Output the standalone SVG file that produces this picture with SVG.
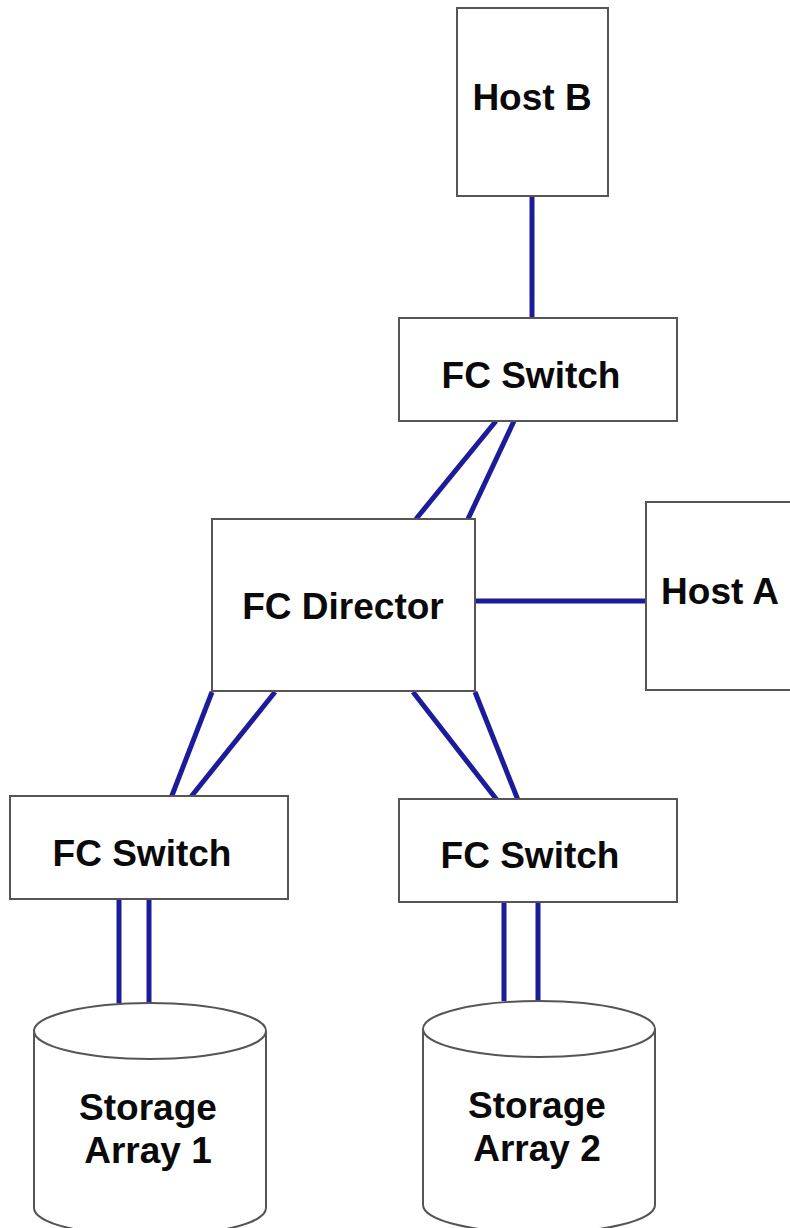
<svg xmlns="http://www.w3.org/2000/svg" width="790" height="1228" viewBox="0 0 790 1228">
<style>
.box{fill:#fff;stroke:#555;stroke-width:2}
.lbl{font-family:"Liberation Sans",Arial,sans-serif;font-weight:bold;font-size:37px;fill:#0a0a0a;text-anchor:middle}
.link{stroke:#1c1c9a;stroke-width:5;fill:none}
</style>
<rect width="790" height="1228" fill="#fff"/>
<g id="connectors">
<line class="link" x1="532" y1="196" x2="532" y2="318"/>
<line class="link" x1="496" y1="421" x2="416" y2="519"/>
<line class="link" x1="514" y1="421" x2="468" y2="519"/>
<line class="link" x1="475" y1="601" x2="646" y2="601"/>
<line class="link" x1="212" y1="692" x2="171" y2="798"/>
<line class="link" x1="275" y1="692" x2="190" y2="798"/>
<line class="link" x1="413" y1="692" x2="497" y2="800"/>
<line class="link" x1="475" y1="692" x2="518" y2="800"/>
<line class="link" x1="119" y1="899" x2="119" y2="1003"/>
<line class="link" x1="149" y1="899" x2="149" y2="1003"/>
<line class="link" x1="504" y1="902" x2="504" y2="1001"/>
<line class="link" x1="538" y1="902" x2="538" y2="1001"/>
</g>
<g id="host-b">
<rect class="box" x="457" y="8" width="151" height="188"/>
<text class="lbl" x="532" y="110">Host B</text>
</g>
<g id="fc-switch-top">
<rect class="box" x="399" y="318" width="278" height="103"/>
<text class="lbl" x="531" y="388">FC Switch</text>
</g>
<g id="fc-director">
<rect class="box" x="212" y="519" width="263" height="172"/>
<text class="lbl" x="343" y="619">FC Director</text>
</g>
<g id="host-a">
<rect class="box" x="646" y="502" width="160" height="188"/>
<text class="lbl" x="720" y="604">Host A</text>
</g>
<g id="fc-switch-left">
<rect class="box" x="10" y="796" width="278" height="103"/>
<text class="lbl" x="142" y="866">FC Switch</text>
</g>
<g id="fc-switch-right">
<rect class="box" x="399" y="799" width="278" height="103"/>
<text class="lbl" x="530" y="868">FC Switch</text>
</g>
<g id="storage-array-1">
<path class="box" d="M34,1031 L34,1208 A116,28 0 0 0 266,1208 L266,1031 A116,28 0 0 0 34,1031 A116,28 0 0 0 266,1031"/>
<text class="lbl" x="148" y="1120">Storage</text>
<text class="lbl" x="148" y="1163">Array 1</text>
</g>
<g id="storage-array-2">
<path class="box" d="M423,1029 L423,1205 A116,28 0 0 0 655,1205 L655,1029 A116,28 0 0 0 423,1029 A116,28 0 0 0 655,1029"/>
<text class="lbl" x="537" y="1118">Storage</text>
<text class="lbl" x="537" y="1161">Array 2</text>
</g>
</svg>
